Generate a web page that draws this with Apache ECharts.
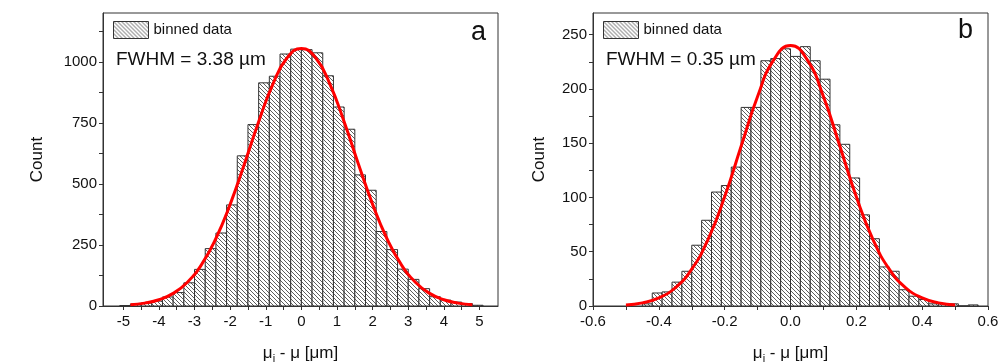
<!DOCTYPE html>
<html><head><meta charset="utf-8">
<script src="https://cdn.jsdelivr.net/npm/echarts@6/dist/echarts.min.js"></script>
<style>html,body{margin:0;padding:0;background:#fff}#c{width:1007px;height:363px}</style>
</head><body><div id="c"></div>
<script>
// ---- data: panel a ----
const binStartA = [-5.1,-4.8,-4.5,-4.2,-3.9,-3.6,-3.3,-3.0,-2.7,-2.4,-2.1,-1.8,-1.5,-1.2,-0.9,-0.6,-0.3,0,0.3,0.6,0.9,1.2,1.5,1.8,2.1,2.4,2.7,3.0,3.3,3.6,3.9,4.2,4.5,4.8];
const countA = [2,8,12,20,37,55,95,150,235,299,414,615,743,914,941,1032,1052,1050,1037,943,815,724,537,474,305,231,151,109,71,38,24,16,10,3];
const binWidthA = 0.3;
const fitXA = [-4.8,-4.4,-4.0,-3.6,-3.2,-2.8,-2.4,-2.0,-1.6,-1.2,-0.8,-0.4,0,0.4,0.8,1.2,1.6,2.0,2.4,2.8,3.2,3.6,4.0,4.4,4.8];
const fitYA = [5.0,11.7,25.5,51.8,97.5,170.4,276.4,416.2,581.7,754.7,909.1,1016.5,1055,1016.5,909.1,754.7,581.7,416.2,276.4,170.4,97.5,51.8,25.5,11.7,5.0];
const xLabelsA = [-5,-4,-3,-2,-1,0,1,2,3,4,5];
const xTicksA = [-5,-4.5,-4,-3.5,-3,-2.5,-2,-1.5,-1,-0.5,0,0.5,1,1.5,2,2.5,3,3.5,4,4.5,5];
const yLabelsA = [0,250,500,750,1000];
const yTicksA = [0,125,250,375,500,625,750,875,1000,1125];
// ---- data: panel b ----
const binStartB = [-0.45,-0.42,-0.39,-0.36,-0.33,-0.30,-0.27,-0.24,-0.21,-0.18,-0.15,-0.12,-0.09,-0.06,-0.03,0,0.03,0.06,0.09,0.12,0.15,0.18,0.21,0.24,0.27,0.30,0.33,0.36,0.39,0.42,0.45,0.48,0.51,0.54];
const countB = [2,12,13,22,32,56,79,105,111,128,183,183,226,228,237,230,239,226,209,167,149,118,84,62,36,32,15,9,6,2,2,2,0,1];
const binWidthB = 0.03;
const fitXB = [-0.5,-0.45,-0.4,-0.35,-0.3,-0.25,-0.2,-0.15,-0.1,-0.05,0,0.05,0.1,0.15,0.2,0.25,0.3,0.35,0.4,0.45,0.5];
const fitYB = [1.0,2.9,7.4,16.7,33.9,61.7,100.6,147.2,193.1,227.3,240,227.3,193.1,147.2,100.6,61.7,33.9,16.7,7.4,2.9,1.0];
const xLabelsB = [-0.6,-0.4,-0.2,0,0.2,0.4,0.6];
const xTicksB = [-0.6,-0.5,-0.4,-0.3,-0.2,-0.1,0,0.1,0.2,0.3,0.4,0.5,0.6];
const yLabelsB = [0,50,100,150,200,250];
const yTicksB = [0,25,50,75,100,125,150,175,200,225,250];

const FONT = '"Liberation Sans", Arial, sans-serif';

function makeHatch(){
  const c = document.createElement('canvas'); c.width = 4; c.height = 4;
  const g = c.getContext('2d');
  g.fillStyle = '#fff'; g.fillRect(0,0,4,4);
  g.fillStyle = '#5e5e5e';
  for (let i = 0; i < 4; i++) g.fillRect(i, i, 1, 1);
  return c;
}
const hatch = {image: makeHatch(), repeat: 'repeat'};

function histSeries(idx, starts, counts, w){
  return {
    type: 'custom', name: 'binned data', xAxisIndex: idx, yAxisIndex: idx,
    data: starts.map((s, i) => [s, s + w, counts[i]]),
    encode: {x: [0, 1], y: 2},
    itemStyle: {color: hatch, borderColor: '#333', borderWidth: 1},
    clip: true, z: 2,
    renderItem: (params, api) => {
      const a = api.coord([api.value(0), api.value(2)]);
      const b = api.coord([api.value(1), 0]);
      return {type: 'rect',
        shape: {x: a[0], y: a[1], width: b[0] - a[0], height: b[1] - a[1]},
        style: {fill: hatch, stroke: '#333', lineWidth: 1}};
    }
  };
}
function fitSeries(idx, xs, ys){
  return {type: 'line', name: 'fit', xAxisIndex: idx, yAxisIndex: idx,
    data: xs.map((x, i) => [x, ys[i]]), smooth: 0.5,
    symbol: 'none', showSymbol: false, z: 5,
    lineStyle: {color: '#ff0000', width: 3}};
}
const axLine = {show: true, onZero: false, lineStyle: {color: '#333', width: 1}};
const lblStyle = {fontSize: 15, color: '#111', fontFamily: FONT};
const xName = 'μ{sub|i} - μ [μm]';
const xNameStyle = {fontSize: 17, color: '#111', fontFamily: FONT,
  rich: {sub: {fontSize: 11, fontFamily: FONT, color: '#111', verticalAlign: 'bottom', lineHeight: 22}}};

function xAxisDef(idx, min, max, labels, ticks, fmt){
  return {type: 'value', gridIndex: idx, min: min, max: max,
    axisLine: axLine, splitLine: {show: false},
    axisTick: {show: true, length: 4, customValues: ticks, lineStyle: {color: '#333'}},
    axisLabel: Object.assign({customValues: labels, margin: 8, formatter: fmt}, lblStyle),
    name: xName, nameLocation: 'middle', nameGap: 36, nameTextStyle: xNameStyle};
}
function yAxisDef(idx, max, labels, ticks, gap){
  return {type: 'value', gridIndex: idx, min: 0, max: max,
    axisLine: axLine, splitLine: {show: false},
    axisTick: {show: true, length: 4, customValues: ticks, lineStyle: {color: '#333'}},
    axisLabel: Object.assign({customValues: labels, margin: 6, formatter: v => String(v)}, lblStyle),
    name: 'Count', nameLocation: 'middle', nameGap: gap,
    nameTextStyle: {fontSize: 17, color: '#111', fontFamily: FONT}};
}
function legendDef(left){
  return {left: left, top: 21, padding: 0, data: ['binned data'], selectedMode: false,
    icon: 'rect', itemWidth: 35, itemHeight: 17,
    itemStyle: {borderWidth: 1, borderColor: '#333'},
    textStyle: {fontSize: 15, color: '#111', fontFamily: FONT}};
}

const chart = echarts.init(document.getElementById('c'), null, {renderer: 'canvas'});
chart.setOption({
  animation: false,
  backgroundColor: '#fff',
  grid: [
    {left: 103, top: 13, width: 395, height: 293, show: true, borderColor: '#333', borderWidth: 1, backgroundColor: 'transparent', containLabel: false, outerBoundsMode: 'none'},
    {left: 593, top: 13, width: 395, height: 293, show: true, borderColor: '#333', borderWidth: 1, backgroundColor: 'transparent', containLabel: false, outerBoundsMode: 'none'}
  ],
  xAxis: [
    xAxisDef(0, -5.57, 5.52, xLabelsA, xTicksA, v => String(v)),
    xAxisDef(1, -0.6, 0.6, xLabelsB, xTicksB, v => v.toFixed(1))
  ],
  yAxis: [
    yAxisDef(0, 1200, yLabelsA, yTicksA, 57),
    yAxisDef(1, 270, yLabelsB, yTicksB, 45)
  ],
  legend: [legendDef(113), legendDef(603)],
  graphic: [
    {type: 'text', left: 116, top: 50, style: {text: 'FWHM = 3.38 µm', font: '19px ' + FONT, fill: '#111'}},
    {type: 'text', left: 606, top: 50, style: {text: 'FWHM = 0.35 µm', font: '19px ' + FONT, fill: '#111'}},
    {type: 'text', left: 471, top: 19, style: {text: 'a', font: '27px ' + FONT, fill: '#111'}},
    {type: 'text', left: 958, top: 17, style: {text: 'b', font: '27px ' + FONT, fill: '#111'}}
  ],
  series: [
    histSeries(0, binStartA, countA, binWidthA),
    fitSeries(0, fitXA, fitYA),
    histSeries(1, binStartB, countB, binWidthB),
    fitSeries(1, fitXB, fitYB)
  ]
});
</script></body></html>
